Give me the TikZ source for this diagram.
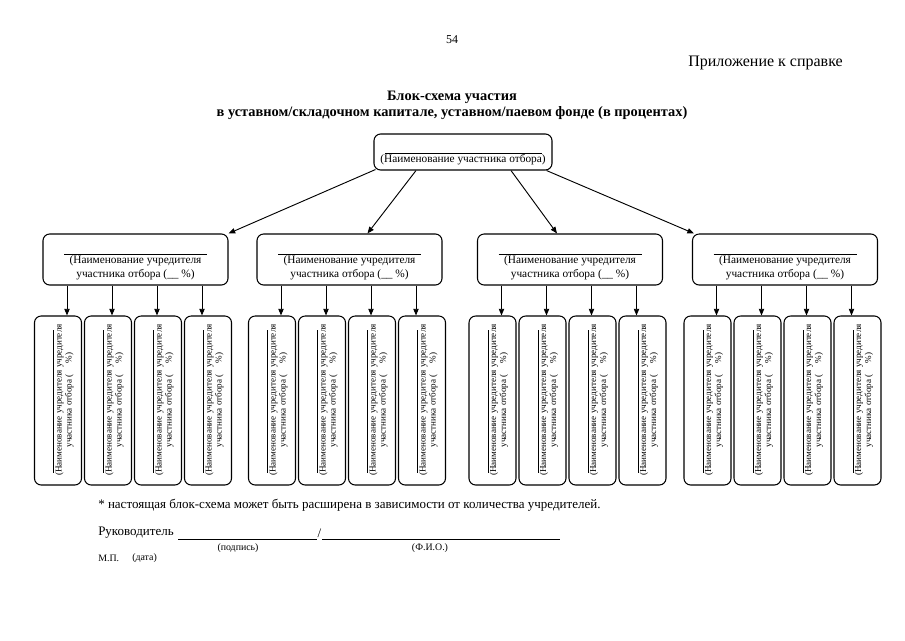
\documentclass[tikz,border=0pt]{standalone}
\usepackage{fontspec}
\setmainfont{Liberation Serif}
\usetikzlibrary{arrows.meta,calc}
\begin{document}
\begin{tikzpicture}[x=0.75pt,y=-0.75pt,
  box/.style={draw, rounded corners=5pt, line width=0.8pt, inner sep=0pt},
  arr/.style={-{Triangle[length=5pt,width=4pt]}, line width=0.7pt},
  oline/.style={line width=0.5pt},
  midtxt/.style={font=\fontsize{8.5}{10.5}\selectfont, align=center, inner sep=0pt},
  smalltxt/.style={font=\fontsize{6.8}{7.5}\selectfont, align=center, inner sep=0pt, rotate=90},
  plain/.style={inner sep=0pt},
  tiny/.style={font=\fontsize{7.4}{9}\selectfont, inner sep=0pt}]
\useasboundingbox (0,0) rectangle (905,640);

% header
\node[plain, font=\fontsize{9}{10}\selectfont] (page) at (452,40) {54};
\node[plain, font=\fontsize{12}{14}\selectfont, anchor=east] (app) at (843,63) {Приложение к справке};
\node[plain, font=\bfseries\fontsize{10.8}{12}\selectfont, align=center] (title) at (452,105)
  {Блок-схема участия\\в уставном/складочном капитале, уставном/паевом фонде (в процентах)};

% top box
\node[box, minimum width=133.5pt, minimum height=27pt] (top) at (463,152) {};
\draw[oline] (385,153) -- (542,153);
\node[midtxt] (toptext) at (463,160) {(Наименование участника отбора)};

% middle boxes
\foreach \g/\cx in {1/135.5, 2/349.5, 3/570, 4/785} {
  \node[box, minimum width=138.75pt, minimum height=38.25pt] (m\g) at (\cx,259.5) {};
  \draw[oline] (\cx-71.5,254) -- (\cx+71.5,254);
  \node[midtxt] (mt\g) at (\cx,268) {(Наименование учредителя\\участника отбора (\_\_ \%)};
  \foreach \i/\bo/\ao in {1/-77.5/-68.5, 2/-27.5/-23.5, 3/22.5/21.5, 4/72.5/66.5} {
    \node[box, minimum width=35.25pt, minimum height=126.75pt] (s\g\i) at (\cx+\bo,400.5) {};
    \draw[oline] (\cx+\bo-4.5,330) -- (\cx+\bo-4.5,473);
    \node[smalltxt] (st\g\i) at (\cx+\bo+6.5,400) {(Наименование учредителя учредителя\\участника отбора (\quad\ \%)};
    \path (m\g.south) ++(\ao,0) coordinate (a\g\i);
    \draw[arr] (a\g\i) -- (a\g\i |- s\g\i.north);
  }
}

% arrows from top box
\draw[arr] ($(top.south west)+(2,-1)$) -- (m1.north east);
\draw[arr] ($(top.south)+(-47,0)$) -- ($(m2.north)+(18,0)$);
\draw[arr] ($(top.south)+(48,0)$) -- ($(m3.north)+(-13,0)$);
\draw[arr] ($(top.south east)+(-6,0)$) -- ($(m4.north west)+(2,0)$);

% footer
\node[plain, font=\fontsize{9.75}{12}\selectfont, anchor=west] (note) at (98,505)
  {* настоящая блок-схема может быть расширена в зависимости от количества учредителей.};
\node[plain, font=\fontsize{9.75}{12}\selectfont, anchor=west] (head) at (98,533) {Руководитель};
\coordinate (u1s) at (178,539);
\coordinate (u1e) at (317,539);
\coordinate (u2s) at (322,539);
\coordinate (u2e) at (560,539);
\draw[line width=0.5pt] (u1s) -- (u1e);
\node[plain, font=\fontsize{9.75}{12}\selectfont] (slash) at (319.5,533) {/};
\draw[line width=0.5pt] (u2s) -- (u2e);
\node[tiny] (sig) at (238,548) {(подпись)};
\node[tiny] (fio) at (430,548) {(Ф.И.О.)};
\node[tiny, anchor=west] (mp) at (98,558) {М.П.};
\node[tiny, anchor=west] (date) at (132,558) {(дата)};
\end{tikzpicture}
\end{document}
